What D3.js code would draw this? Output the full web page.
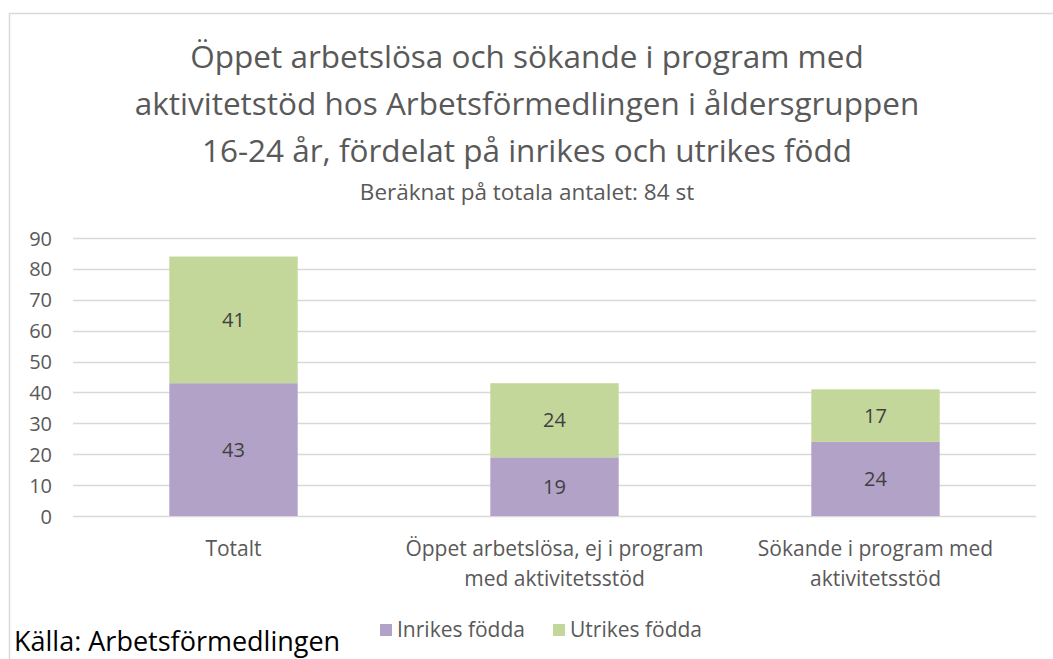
<!DOCTYPE html>
<html>
<head>
<meta charset="utf-8">
<script src="https://cdn.jsdelivr.net/npm/d3@7"></script>
<style>
  html, body { margin: 0; padding: 0; background: #fff; }
  svg { display: block; }
  text { font-family: "Open Sans", sans-serif; fill: #595959; }
</style>
</head>
<body>
<svg id="chart" width="1053" height="659"></svg>
<script>
// Categories on the x axis (each may wrap onto two lines)
const categories = [
  ["Totalt"],
  ["Öppet arbetslösa, ej i program", "med aktivitetsstöd"],
  ["Sökande i program med", "aktivitetsstöd"]
];
const categoryKeys = ["Totalt", "Öppet arbetslösa", "Sökande i program"];

// Series values
const seriesNames = ["Inrikes födda", "Utrikes födda"];
const inrikes = [43, 19, 24];
const utrikes = [41, 24, 17];
const seriesColors = ["#b3a2c7", "#c4d79b"];

// Axis ticks
const yTicks = [0, 10, 20, 30, 40, 50, 60, 70, 80, 90];

const titleLines = [
  "Öppet arbetslösa och sökande i program med",
  "aktivitetstöd hos Arbetsförmedlingen i åldersgruppen",
  "16-24 år, fördelat på inrikes och utrikes född"
];
const subtitle = "Beräknat på totala antalet: 84 st";
const source = "Källa: Arbetsförmedlingen";

const svg = d3.select("#chart");

// Chart area frame
svg.append("rect")
  .attr("x", 9.5).attr("y", 13.5)
  .attr("width", 1100).attr("height", 700)
  .attr("fill", "none").attr("stroke", "#d9d9d9").attr("stroke-width", 1.5);

const plot = { left: 73, right: 1036, top: 238, bottom: 516 };

const x = d3.scaleBand()
  .domain(categoryKeys)
  .range([plot.left, plot.right])
  .paddingInner(0.6)
  .paddingOuter(0.3);

const y = d3.scaleLinear()
  .domain([0, 90])
  .range([plot.bottom, plot.top]);

// Gridlines
svg.append("g")
  .selectAll("line")
  .data(yTicks)
  .join("line")
  .attr("x1", plot.left).attr("x2", plot.right)
  .attr("y1", d => Math.round(y(d)) + 0.5)
  .attr("y2", d => Math.round(y(d)) + 0.5)
  .attr("stroke", "#d9d9d9").attr("stroke-width", 1.5);

// Y axis labels
const yAxis = d3.axisLeft(y).tickValues(yTicks).tickSize(0).tickPadding(0);
const yg = svg.append("g")
  .attr("transform", `translate(${52},0)`)
  .call(yAxis);
yg.select(".domain").remove();
yg.selectAll("text")
  .style("font-family", '"Open Sans", sans-serif')
  .style("font-size", "20px")
  .attr("fill", "#595959")
  .attr("dy", "0.35em");

// Stacked bars
const rows = categoryKeys.map((k, i) => ({ key: k, "Inrikes födda": inrikes[i], "Utrikes födda": utrikes[i] }));
const stack = d3.stack().keys(seriesNames)(rows);

const layers = svg.append("g")
  .selectAll("g")
  .data(stack)
  .join("g")
  .attr("fill", (d, i) => seriesColors[i]);

layers.selectAll("rect")
  .data(d => d)
  .join("rect")
  .attr("x", d => x(d.data.key))
  .attr("width", x.bandwidth())
  .attr("y", d => y(d[1]))
  .attr("height", d => y(d[0]) - y(d[1]));

// Segment value labels
layers.selectAll("text")
  .data(d => d)
  .join("text")
  .attr("x", d => x(d.data.key) + x.bandwidth() / 2)
  .attr("y", d => (y(d[0]) + y(d[1])) / 2)
  .attr("dy", "0.35em")
  .attr("text-anchor", "middle")
  .style("font-size", "20px")
  .style("fill", "#404040")
  .text(d => d[1] - d[0]);

// Category labels
const catG = svg.append("g");
categories.forEach((lines, i) => {
  const cx = x(categoryKeys[i]) + x.bandwidth() / 2;
  lines.forEach((line, j) => {
    catG.append("text")
      .attr("x", cx)
      .attr("y", 556 + j * 30)
      .attr("text-anchor", "middle")
      .style("font-size", "21px")
      .text(line);
  });
});

// Title
titleLines.forEach((line, i) => {
  svg.append("text")
    .attr("x", 527)
    .attr("y", 68 + i * 47)
    .attr("text-anchor", "middle")
    .style("font-size", "31.5px")
    .text(line);
});

svg.append("text")
  .attr("x", 527)
  .attr("y", 200)
  .attr("text-anchor", "middle")
  .style("font-size", "22.5px")
  .text(subtitle);

// Legend
const legend = svg.append("g");
const legendX = [380, 553];
seriesNames.forEach((name, i) => {
  legend.append("rect")
    .attr("x", legendX[i]).attr("y", 624)
    .attr("width", 12).attr("height", 12)
    .attr("fill", seriesColors[i]);
  legend.append("text")
    .attr("x", legendX[i] + 17)
    .attr("y", 637)
    .style("font-size", "21px")
    .text(name);
});

// Source note
svg.append("text")
  .attr("x", 14)
  .attr("y", 651)
  .style("font-size", "27px")
  .style("fill", "#000")
  .text(source);
</script>
</body>
</html>
